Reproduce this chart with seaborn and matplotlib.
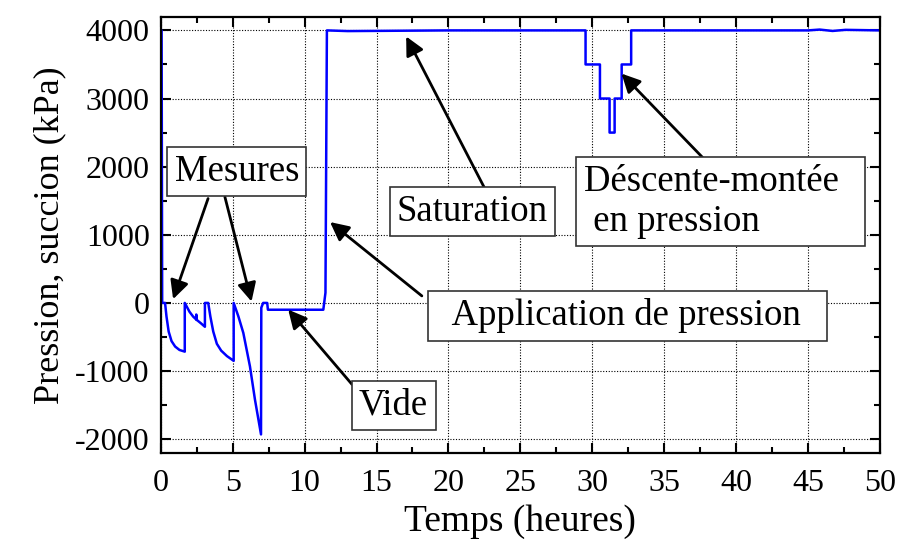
import matplotlib
matplotlib.use('Agg')
import matplotlib.pyplot as plt
import seaborn as sns
import pandas as pd
from matplotlib.ticker import MultipleLocator

# data
temps = [0.06, 0.1, 0.3, 0.4, 0.55, 0.75, 1.0, 1.3, 1.67,
         1.67, 2.0, 2.25, 2.45, 2.47, 2.49, 2.51, 2.8, 3.07,
         3.07, 3.3, 3.45, 3.65, 3.9, 4.2, 4.6, 5.07,
         5.07, 5.4, 5.74, 6.2, 6.55, 6.97,
         6.99, 7.12, 7.4, 7.45, 11.3, 11.45, 11.55,
         13.0, 20.0, 29.53,
         29.53, 30.53, 30.53, 31.2, 31.2, 31.55, 31.55, 32.04, 32.04, 32.7, 32.7,
         40.0, 45.0, 45.8, 46.7, 47.6, 50.0]
pression = [4000, 0, 0, -200, -420, -560, -640, -690, -715,
            0, -130, -200, -240, -170, -250, -250, -300, -350,
            0, 0, -200, -420, -600, -700, -780, -850,
            0, -200, -440, -930, -1420, -1930,
            -70, 0, 0, -100, -100, 150, 4000,
            3990, 4000, 4000,
            3500, 3500, 3000, 3000, 2500, 2500, 3000, 3000, 3500, 3500, 4000,
            4000, 4000, 4012, 3992, 4008, 4000]

df = pd.DataFrame({'temps': temps, 'pression': pression})

# annotations: text, box centre, arrows (tip, tail)
labels = ['Mesures', 'Vide', '  Application de pression  ', 'Saturation',
          'Déscente-montée  \n en pression']
label_pos = [(5.29, 1929), (16.19, -1507), (32.43, -190), (21.67, 1337), (38.91, 1482)]
arrows = [((0.86, 55), (3.29, 1532)),
          ((6.31, 20), (4.46, 1556)),
          ((8.86, -98), (13.3, -1197)),
          ((11.77, 1187), (18.15, 103)),
          ((17.06, 3911), (22.56, 1665)),
          ((32.03, 3366), (37.65, 2138))]

sns.set_style('ticks')
plt.rcParams['font.family'] = ['Liberation Serif', 'DejaVu Serif']
plt.rcParams['axes.unicode_minus'] = False
plt.rcParams['text.color'] = 'black'
plt.rcParams['axes.labelcolor'] = 'black'

fig = plt.figure(figsize=(8.98, 5.41), dpi=100)
ax = fig.add_axes([0.179, 0.163, 0.801, 0.806])

sns.lineplot(data=df, x='temps', y='pression', estimator=None, sort=False,
             color='#0000ff', linewidth=1.8, ax=ax)

ax.set_xlim(0, 50)
ax.set_ylim(-2200, 4200)
ax.xaxis.set_major_locator(MultipleLocator(5))
ax.xaxis.set_minor_locator(MultipleLocator(2.5))
ax.yaxis.set_major_locator(MultipleLocator(1000))
ax.yaxis.set_minor_locator(MultipleLocator(500))
ax.grid(True, which='major', color='black', linestyle=(0, (1, 1.5)), linewidth=0.8)
ax.tick_params(which='both', direction='in', top=True, right=True, width=1.5,
               labelsize=23, colors='black')
ax.tick_params(axis='x', pad=12)
ax.tick_params(axis='y', pad=8)
ax.tick_params(which='major', length=7)
ax.tick_params(which='minor', length=4)
for s in ax.spines.values():
    s.set_linewidth(1.6)
    s.set_color('black')

ax.set_xlabel('Temps (heures)', fontsize=27, labelpad=4)
ax.set_ylabel('Pression, succion (kPa)', fontsize=26, labelpad=6)

for (tip, tail) in arrows:
    ax.annotate('', xy=tip, xytext=tail,
                arrowprops=dict(arrowstyle='-|>', color='black', lw=2,
                                mutation_scale=28, shrinkA=0, shrinkB=0))

for txt, (x, y) in zip(labels, label_pos):
    ax.text(x, y, txt, fontsize=26.5, ha='center', va='center', multialignment='left',
            bbox=dict(boxstyle='square,pad=0.2', facecolor='white',
                      edgecolor='#333333', linewidth=1.2), zorder=5)

fig.savefig('out.png', dpi=100)
